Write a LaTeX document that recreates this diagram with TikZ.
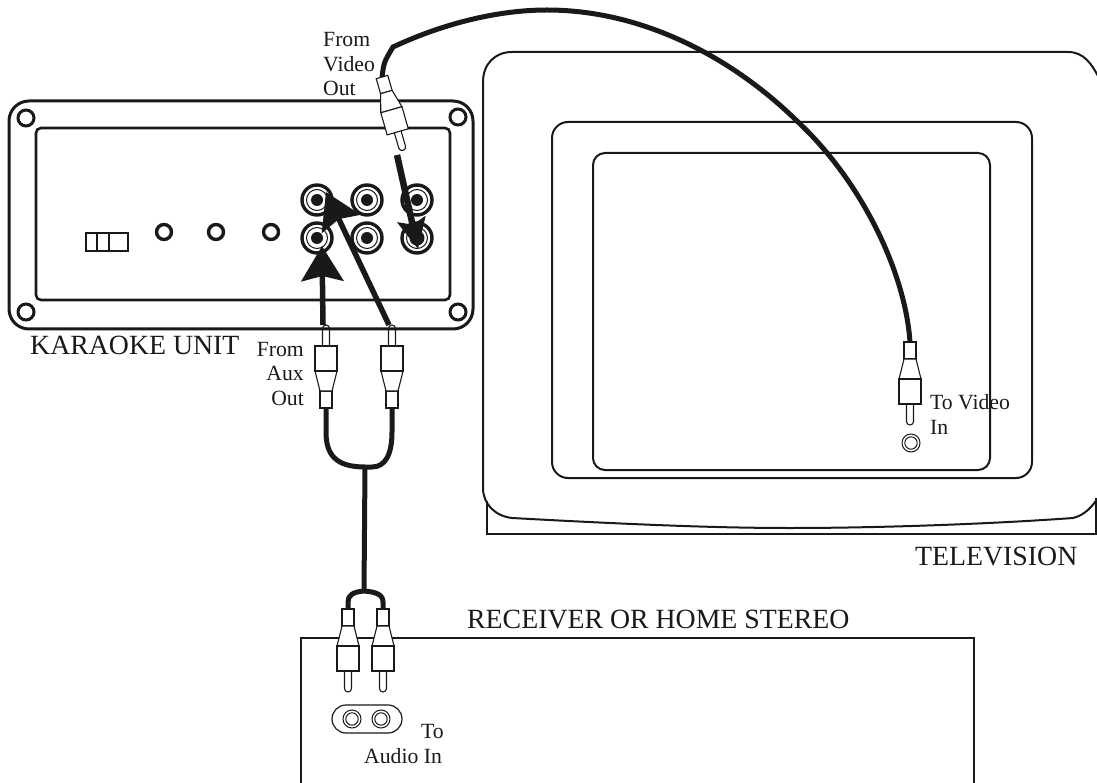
\documentclass[tikz,border=0pt]{standalone}
\usepackage{fontspec}
\setmainfont{Liberation Serif}
\usetikzlibrary{arrows.meta}
\colorlet{colorLine}{black!90}
\tikzset{
  labeltext/.style={inner sep=0pt, text=colorLine, font=\fontsize{21.7}{24.5}\selectfont},
  unittext/.style={inner sep=0pt, text=colorLine, font=\fontsize{27.8}{30}\selectfont},
  panelline/.style={draw=colorLine, line width=2.6pt},
  tvline/.style={draw=colorLine, line width=2pt},
  cableline/.style={draw=colorLine, line width=5pt},
  plugline/.style={draw=colorLine, line width=1.1pt, fill=white},
  bigarrow/.style={draw=colorLine, fill=colorLine, line width=5.5pt, -{Stealth[length=35pt, width=42pt, inset=5pt]}},
  plugshape/.pic={
    \coordinate (-tail) at (0,0);
    \coordinate (-tip) at (0,83);
    \draw[plugline] (-3.5,62) -- (-3.5,79.5) arc[start angle=180, end angle=360, radius=3.5pt] -- (3.5,62);
    \draw[plugline] (-6,0) -- (6,0) -- (6,17) -- (-6,17) -- cycle;
    \draw[plugline] (-6,17) -- (6,17) -- (11,37) -- (-11,37) -- cycle;
    \draw[plugline] (-11,37) -- (11,37) -- (11,62) -- (-11,62) -- cycle;
  },
  jackbig/.pic={
    \draw[colorLine, line width=3.4pt, fill=white] (0,0) circle[radius=15pt];
    \draw[colorLine, line width=1pt] (0,0) circle[radius=10.5pt];
    \fill[colorLine] (0,0) circle[radius=6pt];
  },
  jacksmall/.pic={
    \draw[colorLine, line width=1pt] (0,0) circle[radius=9pt];
    \draw[colorLine, line width=1pt] (0,0) circle[radius=6.2pt];
  },
}
\begin{document}
\begin{tikzpicture}[x=1pt, y=-1pt]
\useasboundingbox (0,0) rectangle (1097,783);
% television
\draw[tvline] (1100,80) .. controls (1092,64) and (1084,52) .. (1068,52) -- (512,52) .. controls (495,52) and (483,64) .. (483,82) -- (483,488) .. controls (483,504) and (495,516) .. (512,518) .. controls (640,525) and (720,528) .. (790,528) .. controls (880,528) and (990,524) .. (1073,518) .. controls (1085,515) and (1092,507) .. (1100,495);
\draw[tvline] (487,501) -- (487,534) -- (1096,534) -- (1096,498);
\draw[tvline, rounded corners=16pt] (552,122) rectangle (1032,478);
\draw[tvline, rounded corners=12pt] (593,153) rectangle (990,470);
\pic at (911,443) {jacksmall};
% receiver
\draw[panelline] (301,783) -- (301,638) -- (974,638) -- (974,783);
\draw[colorLine, line width=1.2pt, rounded corners=14pt] (332,705) rectangle (402,733);
\pic at (352,719) {jacksmall};
\pic at (381,719) {jacksmall};
% aux plugs
\pic (pa) at (326,408) [rotate=180] {plugshape};
\pic (pb) at (392,408) [rotate=180] {plugshape};
% karaoke unit
\draw[panelline, line width=3pt, rounded corners=20pt] (9,101) rectangle (473,329);
\draw[panelline, rounded corners=5pt] (36,128) rectangle (450,300);
\foreach \sx/\sy in {26/118, 26/312, 458/117, 458/312}
  \draw[colorLine, line width=3pt] (\sx,\sy) circle[radius=8pt];
\foreach \rx in {164, 216, 271}
  \draw[colorLine, line width=3.4pt] (\rx,232) circle[radius=7.5pt];
\draw[colorLine, line width=2.6pt] (86,233) rectangle (128,251) (97,233) -- (97,251) (109,233) -- (109,251);
\foreach \jx in {317, 367, 417}
  \foreach \jy in {200, 238}
    \pic at (\jx,\jy) {jackbig};
\fill[colorLine] (417,238) circle[radius=7.5pt];
% arrows
\coordinate (ja) at (322,246);
\coordinate (jb) at (326,192);
\coordinate (jc) at (418,249);
\coordinate (sc) at (397,155);
\draw[bigarrow] (pa-tip) ++(-3,0) -- (ja);
\draw[bigarrow] (pb-tip) ++(-3,0) -- (jb);
\draw[bigarrow, line width=6.5pt, -{Stealth[length=30pt, width=28pt, inset=5pt]}] (sc) -- (jc);
% video plug and cables
\pic (pv) at (382,77) [rotate=16, yscale=.92] {plugshape};
\pic (pt) at (910,342) {plugshape};
\coordinate (va) at (393,47);
\coordinate (vb) at (547,10);
\coordinate (vc) at (798,122);
\draw[cableline] (pv-tail) .. controls (384,62) .. (va) .. controls (440,25) and (495,10) .. (vb) .. controls (640,10) and (730,55) .. (vc) .. controls (860,180) and (905,270) .. (pt-tail);
\coordinate (ya) at (365,467);
\coordinate (yb) at (364,591);
\draw[cableline] (pa-tail) -- (326,432) .. controls (326,455) and (336,467) .. (ya) -- (372,467) .. controls (385,467) and (392,455) .. (392,432) -- (pb-tail);
\pic (pc) at (348,609) {plugshape};
\pic (pd) at (383,609) {plugshape};
\draw[cableline] (ya) -- (yb);
\draw[cableline] (pc-tail) -- (348,602) .. controls (348,595) and (353,592) .. (yb) .. controls (377,592) and (383,595) .. (383,602) -- (pd-tail);
% labels
\node[labeltext, anchor=base west] (lv1) at (323,47) {From};
\node[labeltext, anchor=base west] (lv2) at (323,72) {Video};
\node[labeltext, anchor=base west] (lv3) at (323,96) {Out};
\node[unittext, anchor=base west] (lk) at (30,355) {KARAOKE UNIT};
\node[labeltext, anchor=base east] (la1) at (304,356) {From};
\node[labeltext, anchor=base east] (la2) at (304,381) {Aux};
\node[labeltext, anchor=base east] (la3) at (304,405) {Out};
\node[labeltext, anchor=base west] (lt1) at (930,409) {To Video};
\node[labeltext, anchor=base west] (lt2) at (930,434) {In};
\node[unittext, anchor=base west] (ltv) at (915,565) {TELEVISION};
\node[unittext, anchor=base west] (lr) at (467,628) {RECEIVER OR HOME STEREO};
\node[labeltext, anchor=base west] (ls1) at (421,738) {To};
\node[labeltext, anchor=base west] (ls2) at (364,763) {Audio In};
\end{tikzpicture}
\end{document}
